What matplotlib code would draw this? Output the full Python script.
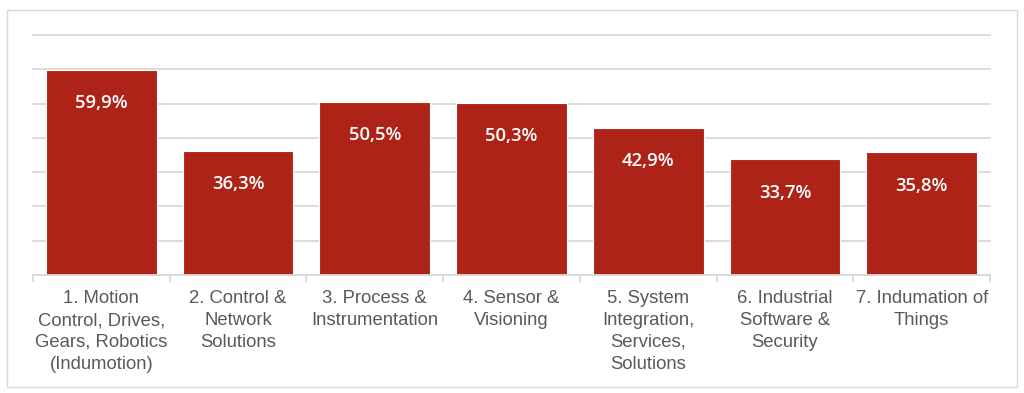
import numpy as np
import matplotlib.pyplot as plt
from matplotlib.patches import Rectangle

categories = [
    "1. Motion\nControl, Drives,\nGears, Robotics\n(Indumotion)",
    "2. Control &\nNetwork\nSolutions",
    "3. Process &\nInstrumentation",
    "4. Sensor &\nVisioning",
    "5. System\nIntegration,\nServices,\nSolutions",
    "6. Industrial\nSoftware &\nSecurity",
    "7. Indumation of\nThings",
]
values = [59.9, 36.3, 50.5, 50.3, 42.9, 33.7, 35.8]
value_labels = ["59,9%", "36,3%", "50,5%", "50,3%", "42,9%", "33,7%", "35,8%"]

bar_color = "#AE2318"
grid_color = "#D9D9D9"
text_gray = "#595959"

fig = plt.figure(figsize=(10.24, 3.93), dpi=100)
fig.patches.append(Rectangle((0.0068, 0.0153), 0.986, 0.959, transform=fig.transFigure,
                             fill=False, edgecolor="#D9D9D9", linewidth=1.0))

ax = fig.add_axes([33 / 1024, 1 - 275 / 393, 957 / 1024, 240 / 393])
x = np.arange(len(values))
bars = ax.bar(x, values, width=0.81, color=bar_color, edgecolor="white",
              linewidth=0.8, zorder=3)

ax.set_xlim(-0.5, len(values) - 0.5)
ax.set_ylim(0, 70)
ax.set_yticks(np.arange(0, 71, 10))
ax.yaxis.grid(True, color=grid_color, linewidth=1.3, zorder=0)
for gl in ax.get_ygridlines():
    gl.set_clip_on(False)
ax.tick_params(axis="y", left=False, labelleft=False)

for s in ["top", "right", "left"]:
    ax.spines[s].set_visible(False)
ax.spines["bottom"].set_color(grid_color)
ax.spines["bottom"].set_linewidth(1.3)
ax.spines["bottom"].set_zorder(4)

# tick marks between categories, labels centred under bars
ax.set_xticks(np.arange(-0.5, len(values), 1.0))
ax.set_xticklabels([])
ax.tick_params(axis="x", which="major", length=5, color=grid_color, width=1.3)
ax.set_xticks(x, minor=True)
ax.set_xticklabels(categories, minor=True, fontsize=13.3, color=text_gray,
                   family="Liberation Sans", linespacing=1.37, va="top")
ax.tick_params(axis="x", which="minor", length=0, pad=11)

for xi, v, lab in zip(x, values, value_labels):
    ax.annotate(lab, (xi, v), xytext=(0, -24), textcoords="offset points",
                ha="center", va="center", color="white", fontsize=13.3,
                family="Open Sans", fontweight="semibold", zorder=5)

fig.savefig("out.png", dpi=100)
